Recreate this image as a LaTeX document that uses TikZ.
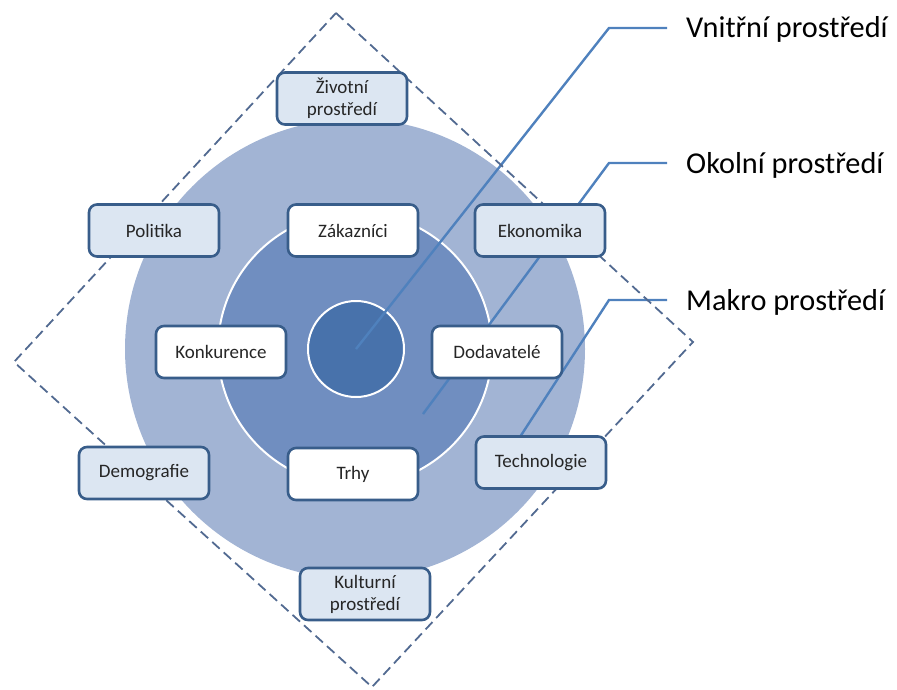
\documentclass[tikz,border=0pt]{standalone}
\usepackage{fontspec}
\setmainfont{Carlito}
\definecolor{ringout}{RGB}{162,180,212}
\definecolor{ringmid}{RGB}{112,142,192}
\definecolor{ringcore}{RGB}{72,114,171}
\definecolor{boxfill}{RGB}{220,230,242}
\definecolor{boxedge}{RGB}{56,93,138}
\definecolor{leadercol}{RGB}{79,129,189}
\definecolor{dashcol}{RGB}{82,106,145}
\begin{document}
\begin{tikzpicture}[x=1pt,y=-1pt,
  box/.style={draw=boxedge, line width=2.6pt, rounded corners=8pt,
    minimum width=130pt, minimum height=52pt, align=center, inner sep=0pt,
    font=\fontsize{19}{22}\selectfont, text=black!85},
  envbox/.style={box, fill=boxfill},
  marketbox/.style={box, fill=white},
  leader/.style={draw=leadercol, line width=2.4pt},
  frame/.style={draw=dashcol, line width=1.8pt, dash pattern=on 10pt off 5.5pt},
  caption/.style={anchor=base west, inner sep=0pt,
    font=\fontsize{30.3}{34}\selectfont, text=black}
]
\useasboundingbox (0,0) rectangle (897,689);

% concentric environment rings
\fill[ringout] (355,349) circle (230);
\draw[white, line width=2pt, fill=ringmid] (355,349) circle (137);
\draw[white, line width=2pt, fill=ringcore] (356,349) circle (48);
\coordinate (core) at (356,349);

% leader lines to the captions
\coordinate (vn-bend) at (609,28);
\coordinate (vn-end) at (667,28);
\coordinate (ok-start) at (423,414);
\coordinate (ok-bend) at (609,163);
\coordinate (ok-end) at (667,163);
\coordinate (mk-start) at (518,440);
\coordinate (mk-bend) at (609,300);
\coordinate (mk-end) at (667,300);
\draw[leader] (core) -- (vn-bend) -- (vn-end);
\draw[leader] (ok-start) -- (ok-bend) -- (ok-end);
\draw[leader] (mk-start) -- (mk-bend) -- (mk-end);

% dashed macro-environment frame
\coordinate (d-top) at (336,13);
\coordinate (d-right) at (693,342);
\coordinate (d-bottom) at (372,687);
\coordinate (d-left) at (14,362);
\draw[frame] (d-top) -- (d-right) -- (d-bottom) -- (d-left) -- cycle;

% macro-environment factors
\node[envbox] (zivotni) at (342,98.5) {Životní\\prostředí};
\node[envbox] (politika) at (154,230.5) {Politika};
\node[envbox] (ekonomika) at (540,230.5) {Ekonomika};
\node[envbox] (technologie) at (541,462.5) {Technologie};
\node[envbox] (demografie) at (144,473) {Demografie};
\node[envbox] (kulturni) at (365,594) {Kulturní\\prostředí};

% market environment factors
\node[marketbox] (zakaznici) at (353,230.5) {Zákazníci};
\node[marketbox] (konkurence) at (221,352) {Konkurence};
\node[marketbox] (dodavatele) at (497,352) {Dodavatelé};
\node[marketbox] (trhy) at (353,474) {Trhy};

% captions
\node[caption] (vnitrni) at (686,37) {Vnitřní prostředí};
\node[caption] (okolni) at (686,173) {Okolní prostředí};
\node[caption] (makro) at (686,310) {Makro prostředí};
\end{tikzpicture}
\end{document}
